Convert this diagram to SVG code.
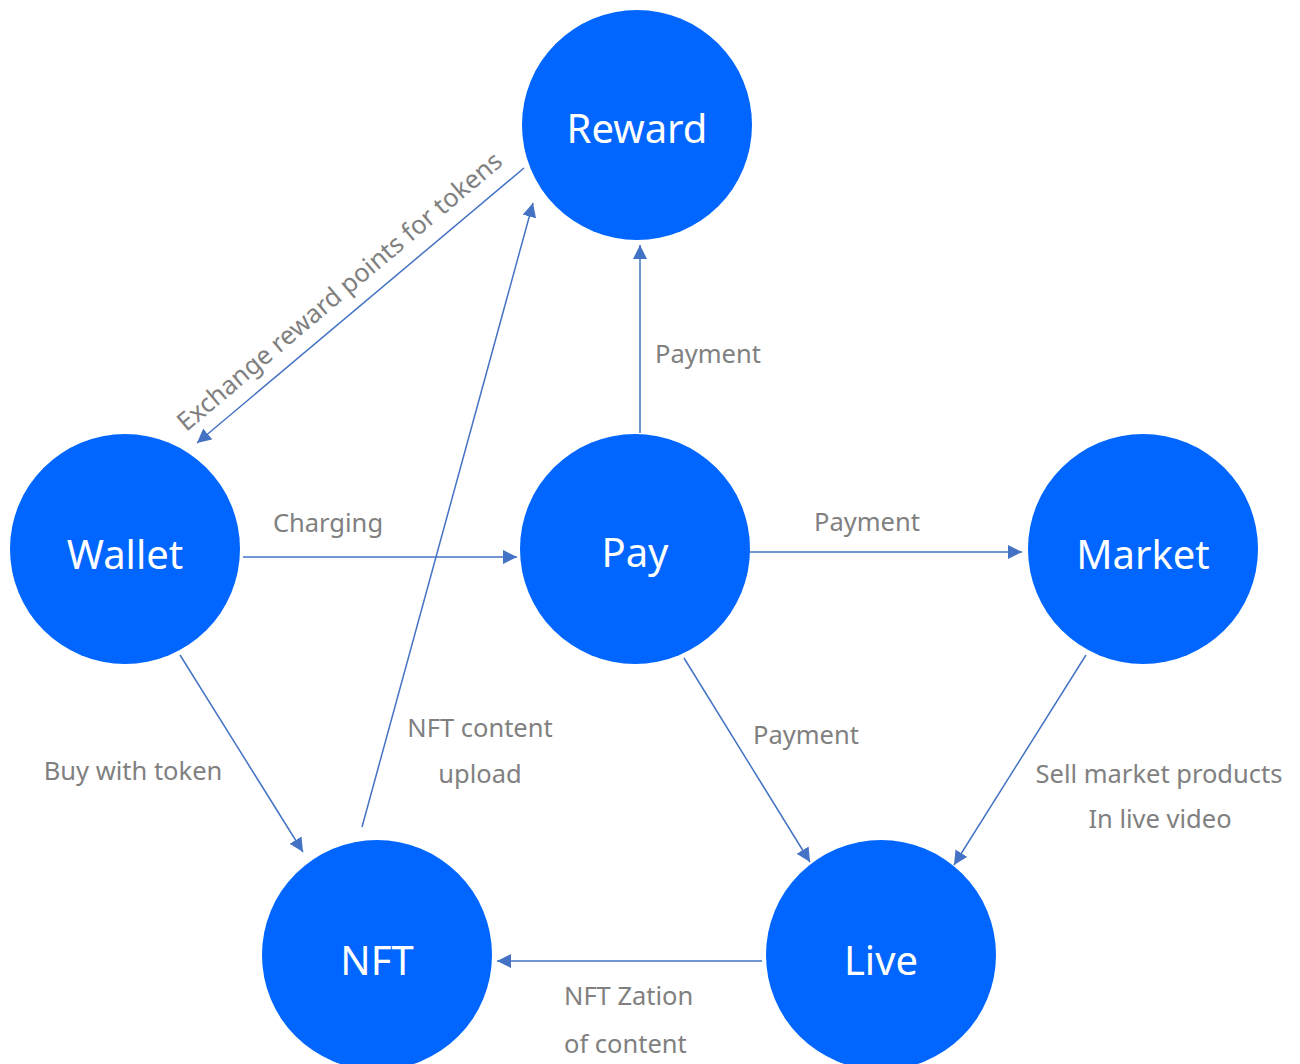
<svg xmlns="http://www.w3.org/2000/svg" width="1300" height="1064" viewBox="0 0 1300 1064">
<style>
.node{fill:#0066FF}
.nl{fill:#FFFFFF;font-family:"Noto Sans","Open Sans","Liberation Sans",sans-serif;font-size:40px;text-anchor:middle}
.el{fill:#808080;font-family:"Noto Sans","Open Sans","Liberation Sans",sans-serif;font-size:25.5px}
.c{text-anchor:middle}
.edge{stroke:#4472C4;stroke-width:1.5;fill:none;marker-end:url(#arr)}
</style>
<defs>
<marker id="arr" viewBox="0 0 10 10" refX="10" refY="5" markerWidth="14" markerHeight="14" markerUnits="userSpaceOnUse" orient="auto">
<path d="M0,0 L10,5 L0,10 Z" fill="#4472C4"/>
</marker>
</defs>
<rect width="1300" height="1064" fill="#FFFFFF"/>
<g id="connectors">
<line class="edge" x1="524" y1="168" x2="197" y2="443"/>
<line class="edge" x1="362" y1="827" x2="533" y2="203"/>
<line class="edge" x1="640" y1="433" x2="640" y2="245"/>
<line class="edge" x1="243" y1="557" x2="517" y2="557"/>
<line class="edge" x1="749" y1="552" x2="1022" y2="552"/>
<line class="edge" x1="180" y1="655" x2="303" y2="852"/>
<line class="edge" x1="684" y1="658" x2="810" y2="862"/>
<line class="edge" x1="1086" y1="655" x2="954" y2="865"/>
<line class="edge" x1="762" y1="961" x2="497" y2="961"/>
<text class="el c" transform="translate(340,292) rotate(-40.2)" x="0" y="8">Exchange reward points for tokens</text>
<text class="el" x="655" y="363">Payment</text>
<text class="el c" x="328" y="532">Charging</text>
<text class="el c" x="867" y="531">Payment</text>
<text class="el c" x="133" y="780">Buy with token</text>
<text class="el c" x="806" y="744">Payment</text>
<text class="el c" x="480" y="737">NFT content</text>
<text class="el c" x="480" y="783">upload</text>
<text class="el c" x="1159" y="783">Sell market products</text>
<text class="el c" x="1160" y="828">In live video</text>
<text class="el" x="564" y="1005">NFT Zation</text>
<text class="el" x="564" y="1053">of content</text>
</g>
<g id="reward"><circle class="node" cx="637" cy="125" r="115"/><text class="nl" x="637" y="143">Reward</text></g>
<g id="wallet"><circle class="node" cx="125" cy="549" r="115"/><text class="nl" x="125" y="569">Wallet</text></g>
<g id="pay"><circle class="node" cx="635" cy="549" r="115"/><text class="nl" x="635" y="567">Pay</text></g>
<g id="market"><circle class="node" cx="1143" cy="549" r="115"/><text class="nl" x="1143" y="569">Market</text></g>
<g id="nft"><circle class="node" cx="377" cy="955" r="115"/><text class="nl" x="377" y="975">NFT</text></g>
<g id="live"><circle class="node" cx="881" cy="955" r="115"/><text class="nl" x="881" y="975">Live</text></g>
</svg>
